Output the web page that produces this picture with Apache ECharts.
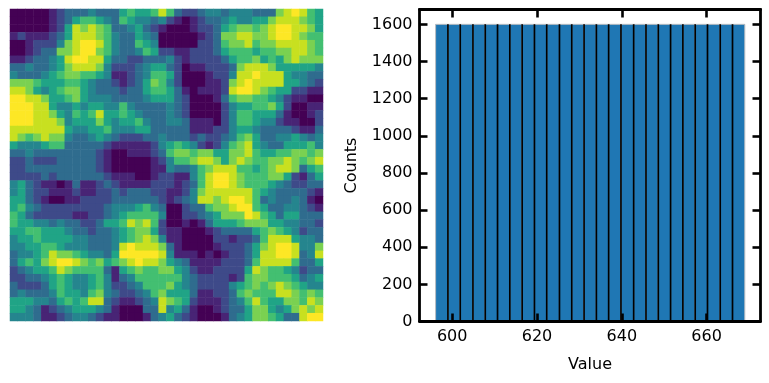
<!DOCTYPE html>
<html>
<head>
<meta charset="utf-8">
<style>html,body{margin:0;padding:0;background:#fff}#c{width:769px;height:383px}</style>
<script src="https://cdn.jsdelivr.net/npm/echarts@6/dist/echarts.min.js"></script>
</head>
<body>
<div id="c"></div>
<script>
// Image values, 0 (dark) to 9 (bright), one string per row
const imageRows = [
"00000123334333565568"+"63223443444333789865",
"00000123566543654434"+"21012334544557888765",
"00000125878763345321"+"00012235677678998875",
"12111235888764335430"+"00001237788778998766",
"00122247899864336540"+"00002236778677888876",
"00123377899764334652"+"21122235666566778876",
"11233458998853322333"+"42122223566756578777",
"33433457888742223455"+"32011222378887555554",
"43334567766541123466"+"52000122488988854433",
"77765556654332123576"+"42000112789888855432",
"88754567754333233566"+"53101112899876552211",
"99887556754443333455"+"53200013677665421100",
"99988544545544643333"+"43200002455667520011",
"99988754656855654333"+"43200002466555310012",
"99988874555754556433"+"44311102466544211002",
"88888885445564445533"+"33311122455433332113",
"87678774334543222334"+"33323223467533445434",
"54445663333321111124"+"56542124678543355564",
"33433333333210011123"+"67767755778655667767",
"22322233333210000012"+"46678875787667787678",
"22333333333210000011"+"43346788866567887356",
"22223233333321110012"+"21146899876667752135",
"45321101311232111122"+"21236899876665432233",
"45322111211223233322"+"11247888888654333321",
"55321001122223333332"+"12348878998634334310",
"56432222222234445643"+"00233677899653344321",
"65322222112234566664"+"00223457779865355333",
"65544343322355687862"+"00101355567775544332",
"55665554332334567752"+"11000123333567654233",
"45565555443334567874"+"11000022122368885443",
"44556654443334898887"+"31000012223578998447",
"34456877654435999998"+"41110101223588998348",
"35657899876756789887"+"54311112223688886335",
"23455687666631567667"+"75421122225876654233",
"22334565445641346666"+"66432222126776665345",
"32223565445642234666"+"75432222456767876544",
"34333465546743223467"+"55531122367666887676",
"55544356568832112348"+"76521112346865577687",
"55431234555431000338"+"45310012335775457878",
"44431123443211000134"+"53210001345776533899"
];
const imageValues = imageRows.map(r => r.split("").map(Number));
const viridis = ["#440154","#482475","#3e4a89","#2f6c8e","#25858e","#20a486","#43bf71","#7ad151","#c8e020","#fde725"];

// Histogram
const binEdges = [596.1,599.0,601.9,604.9,607.8,610.7,613.6,616.5,619.4,622.3,625.3,628.2,631.1,634.0,636.9,639.8,642.8,645.7,648.6,651.5,654.4,657.3,660.2,663.2,666.1,669.0];
const binCounts = [1600,1600,1600,1600,1600,1600,1600,1600,1600,1600,1600,1600,1600,1600,1600,1600,1600,1600,1600,1600,1600,1600,1600,1600,1600];
const xTicks = [600,620,640,660];
const yTicks = [0,200,400,600,800,1000,1200,1400,1600];

const cells = [];
imageValues.forEach((row, j) => row.forEach((v, i) => cells.push([i, j, v])));
const idx = imageValues[0].map((_, i) => i);
const bars = binCounts.map((c, i) => [binEdges[i], binEdges[i + 1], c, i]);

const plain = v => String(v);
const labelStyle = {color:"#000", fontFamily:"DejaVu Sans", fontSize:16, margin:7, formatter:plain};
const nameStyle = {color:"#000", fontFamily:"DejaVu Sans", fontSize:16};
const line = {show:true, onZero:false, lineStyle:{color:"#000", width:2.8}};
const tick = v => ({show:true, inside:true, length:8, lineStyle:{color:"#000", width:2.6}, customValues:v});
const xBase = {type:"value", gridIndex:1, min:592.3, max:672.7, splitLine:{show:false}, axisLine:line, axisTick:tick(xTicks), z:5};
const yBase = {type:"value", gridIndex:1, min:0, max:1680, splitLine:{show:false}, axisLine:line, axisTick:tick(yTicks), z:5};

const chart = echarts.init(document.getElementById("c"), null, {renderer:"canvas"});
chart.setOption({
  animation:false,
  backgroundColor:"#fff",
  grid:[
    {left:10, top:9, width:313, height:312},
    {left:419.5, top:9.5, width:341, height:312}
  ],
  xAxis:[
    {type:"category", gridIndex:0, data:idx, show:false},
    Object.assign({}, xBase, {position:"bottom", name:"Value", nameLocation:"middle", nameGap:35, nameTextStyle:nameStyle,
      axisLabel:Object.assign({}, labelStyle, {customValues:xTicks})}),
    Object.assign({}, xBase, {position:"top", axisLabel:{show:false}})
  ],
  yAxis:[
    {type:"category", gridIndex:0, data:idx, inverse:true, show:false},
    Object.assign({}, yBase, {position:"left", name:"Counts", nameLocation:"middle", nameGap:60, nameTextStyle:nameStyle,
      axisLabel:Object.assign({}, labelStyle, {customValues:yTicks})}),
    Object.assign({}, yBase, {position:"right", axisLabel:{show:false}})
  ],
  visualMap:{show:false, seriesIndex:0, min:0, max:9, inRange:{color:viridis}},
  series:[
    {type:"heatmap", xAxisIndex:0, yAxisIndex:0, data:cells, itemStyle:{borderWidth:0}, emphasis:{disabled:true}},
    {type:"custom", xAxisIndex:1, yAxisIndex:1, data:bars, encode:{x:[0,1], y:2}, z:2,
      renderItem:(p, api) => {
        const a = api.coord([api.value(0), api.value(2)]);
        const b = api.coord([api.value(1), 0]);
        const children = [{type:"rect", shape:{x:a[0], y:a[1], width:b[0]-a[0], height:b[1]-a[1]},
          style:{fill:"#1f77b4", stroke:"#b8bcc0", lineWidth:1}}];
        if (api.value(3) > 0) children.push({type:"line", shape:{x1:a[0], y1:a[1], x2:a[0], y2:b[1]},
          style:{stroke:"#000", lineWidth:1.7}});
        return {type:"group", children};
      }}
  ]
});
</script>
</body>
</html>
